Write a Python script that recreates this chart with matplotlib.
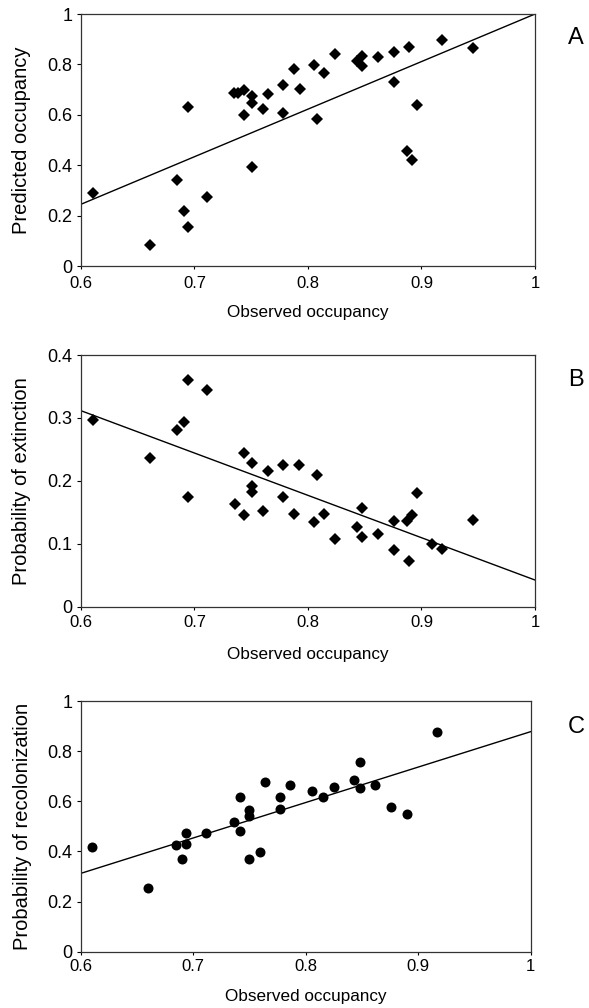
import matplotlib.pyplot as plt
import numpy as np

plt.rcParams['font.family'] = ['Liberation Sans', 'DejaVu Sans']

# Panel A: predicted vs observed occupancy
obs_a = [0.611, 0.661, 0.685, 0.691, 0.694, 0.694, 0.711, 0.735, 0.738, 0.744,
         0.744, 0.751, 0.751, 0.751, 0.760, 0.765, 0.778, 0.778, 0.788, 0.793,
         0.805, 0.808, 0.814, 0.824, 0.843, 0.848, 0.848, 0.862, 0.876, 0.876,
         0.889, 0.896, 0.887, 0.892, 0.918, 0.945]
pred_a = [0.290, 0.082, 0.340, 0.217, 0.155, 0.632, 0.273, 0.686, 0.686, 0.698,
          0.601, 0.675, 0.645, 0.391, 0.623, 0.681, 0.718, 0.608, 0.781, 0.701,
          0.797, 0.583, 0.767, 0.840, 0.815, 0.833, 0.792, 0.828, 0.848, 0.730,
          0.868, 0.640, 0.456, 0.420, 0.897, 0.864]
fit_a = [0.245, 1.0]   # fitted line at x = 0.6 and x = 1

# Panel B: probability of extinction
obs_b = [0.611, 0.661, 0.685, 0.691, 0.694, 0.694, 0.711, 0.736, 0.744, 0.744,
         0.751, 0.751, 0.751, 0.760, 0.765, 0.778, 0.778, 0.788, 0.792, 0.808,
         0.805, 0.814, 0.824, 0.843, 0.848, 0.848, 0.862, 0.876, 0.876, 0.889,
         0.887, 0.892, 0.896, 0.909, 0.918, 0.945]
ext_b = [0.297, 0.237, 0.281, 0.294, 0.361, 0.175, 0.345, 0.164, 0.245, 0.146,
         0.229, 0.192, 0.183, 0.152, 0.215, 0.226, 0.175, 0.147, 0.226, 0.209,
         0.134, 0.147, 0.107, 0.127, 0.157, 0.111, 0.116, 0.136, 0.090, 0.073,
         0.136, 0.146, 0.180, 0.099, 0.091, 0.138]
fit_b = [0.3115, 0.0424]

# Panel C: probability of recolonization
obs_c = [0.610, 0.660, 0.685, 0.690, 0.694, 0.694, 0.711, 0.736, 0.742, 0.742,
         0.750, 0.750, 0.750, 0.759, 0.764, 0.777, 0.777, 0.786, 0.806, 0.815,
         0.825, 0.843, 0.848, 0.848, 0.862, 0.876, 0.890, 0.917]
rec_c = [0.416, 0.255, 0.424, 0.371, 0.475, 0.428, 0.475, 0.519, 0.618, 0.481,
         0.565, 0.541, 0.370, 0.399, 0.676, 0.618, 0.570, 0.665, 0.642, 0.618,
         0.657, 0.684, 0.757, 0.654, 0.666, 0.578, 0.548, 0.875]
fit_c = [0.3125, 0.878]

fit_x = [0.6, 1.0]
x_ticks = [0.6, 0.7, 0.8, 0.9, 1.0]
x_ticklabels = ['0.6', '0.7', '0.8', '0.9', '1']

# (x, y, fit, ylabel, yticks, yticklabels, ylim, letter, marker, size,
#  axes rect, x tick pad, xlabel y in axes coords, letter y in figure coords)
panels = [
    (obs_a, pred_a, fit_a, 'Predicted occupancy', [0, 0.2, 0.4, 0.6, 0.8, 1],
     ['0', '0.2', '0.4', '0.6', '0.8', '1'], (0, 1), 'A', 'D', 6.0,
     [0.1375, 0.7361, 0.7708, 0.2500], 5.0, -0.185, 1 - 38 / 1008),
    (obs_b, ext_b, fit_b, 'Probability of extinction', [0, 0.1, 0.2, 0.3, 0.4],
     ['0', '0.1', '0.2', '0.3', '0.4'], (0, 0.4), 'B', 'D', 6.0,
     [0.1375, 0.3981, 0.7708, 0.2497], 3.5, -0.19, 1 - 380 / 1008),
    (obs_c, rec_c, fit_c, 'Probability of recolonization', [0, 0.2, 0.4, 0.6, 0.8, 1],
     ['0', '0.2', '0.4', '0.6', '0.8', '1'], (0, 1), 'C', 'o', 7.2,
     [0.1370, 0.0558, 0.7640, 0.2487], 2.5, -0.18, 1 - 727 / 1008),
]

fig = plt.figure(figsize=(5.89, 10.08), dpi=100)

for (obs, val, fit, ylabel, yticks, yticklabels, ylim, letter, marker, ms,
     rect, xpad, xlab_y, letter_y) in panels:
    ax = fig.add_axes(rect)
    ax.plot(obs, val, linestyle='none', marker=marker, markersize=ms,
            color='black', markeredgewidth=0)
    ax.plot(fit_x, fit, color='black', linewidth=1.0)

    ax.set_xlim(0.6, 1.0)
    ax.set_ylim(*ylim)
    ax.set_xticks(x_ticks)
    ax.set_xticklabels(x_ticklabels)
    ax.set_yticks(yticks)
    ax.set_yticklabels(yticklabels)
    ax.tick_params(axis='x', direction='out', length=2.5, width=0.8,
                   labelsize=12, pad=xpad)
    ax.tick_params(axis='y', direction='out', length=3, width=0.8,
                   labelsize=13, pad=3)
    for sp in ax.spines.values():
        sp.set_color('#333333')
        sp.set_linewidth(0.9)

    ax.set_xlabel('Observed occupancy', fontsize=12.3, va='center')
    ax.xaxis.set_label_coords(0.5, xlab_y)
    ax.set_ylabel(ylabel, fontsize=14.5, va='center', ha='center')
    ax.yaxis.set_label_coords((22 - 81) / 454, 0.5)
    fig.text(576 / 589, letter_y, letter, fontsize=17, ha='center', va='center')

fig.savefig('out.png', dpi=100)
